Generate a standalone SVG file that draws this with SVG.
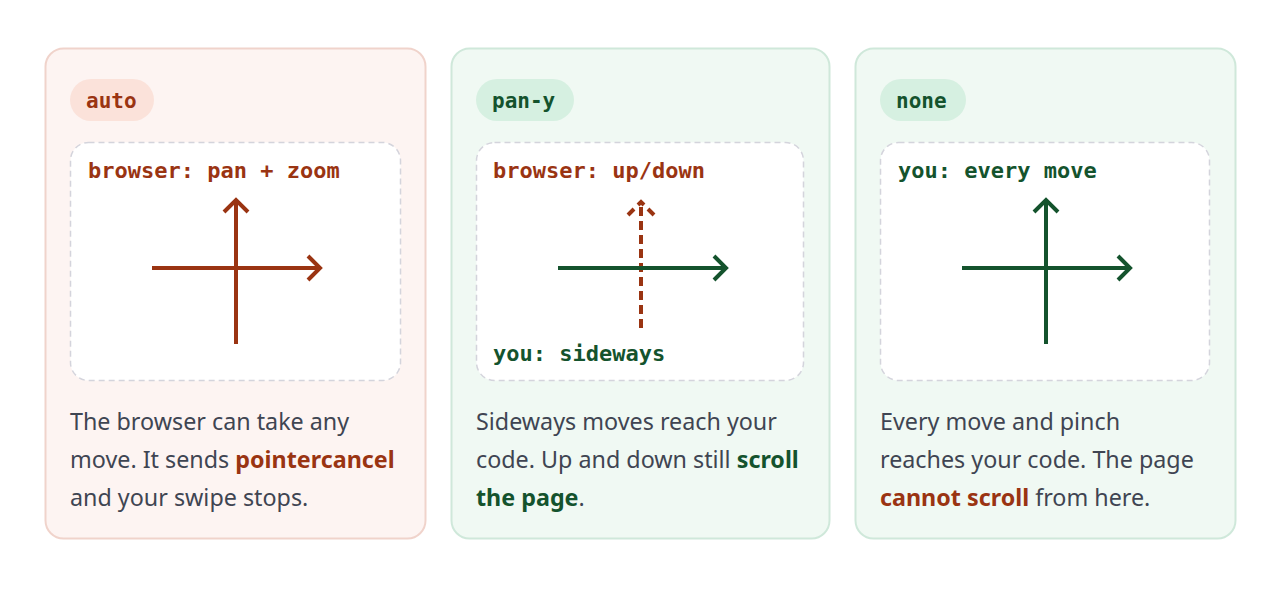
<svg xmlns="http://www.w3.org/2000/svg" width="1280" height="592" viewBox="0 0 1280 592">
<style>
.code{font-family:"DejaVu Sans Mono",monospace;font-weight:bold;font-size:22px}
.pill{font-size:21px}
.body{font-family:"Noto Sans","Open Sans",sans-serif;font-size:23.3px;fill:#3f4552}
.b{font-weight:bold}
.red{fill:#9a3412}.grn{fill:#14532d}
.ar{fill:none;stroke-width:4;stroke-linecap:butt;stroke-linejoin:miter}
.rs{stroke:#9a3412}.gs{stroke:#14532d}
.inner{fill:#fff;stroke:#d4d4dc;stroke-width:1.5;stroke-dasharray:6 4}
</style>
<rect width="1280" height="592" fill="#fff"/>
<g id="card-auto">
<rect x="45.5" y="48.5" width="380" height="490" rx="18" fill="#fdf4f2" stroke="#f0d3cb" stroke-width="2"/>
<rect x="70" y="79" width="84" height="42" rx="21" fill="#fbe2da"/>
<text x="86" y="108" class="code pill red">auto</text>
<rect x="70.5" y="142.5" width="330" height="238" rx="18" class="inner"/>
<text x="88" y="178" class="code red">browser: pan + zoom</text>
<g class="ar rs"><path d="M152 268H320M308 256L320 268L308 280M236 344V200M224 212L236 200L248 212"/></g>
<text class="body" x="70"><tspan y="430">The browser can take any</tspan><tspan x="70" y="468">move. It sends <tspan class="b red">pointercancel</tspan></tspan><tspan x="70" y="506">and your swipe stops.</tspan></text>
</g>
<g id="card-pan-y">
<rect x="451.5" y="48.5" width="378" height="490" rx="18" fill="#f0f9f3" stroke="#cfe8da" stroke-width="2"/>
<rect x="476" y="79" width="98" height="42" rx="21" fill="#d6f0e1"/>
<text x="492" y="108" class="code pill grn">pan-y</text>
<rect x="476.5" y="142.5" width="327" height="238" rx="18" class="inner"/>
<text x="493" y="178" class="code red">browser: up/down</text>
<g class="ar rs" stroke-dasharray="9 5"><path d="M641 328V204"/></g>
<g class="ar rs"><path d="M628 215L634 209M638 205L641 202L644 205M648 209L654 215"/></g>
<g class="ar gs"><path d="M558 268H726M714 256L726 268L714 280"/></g>
<text x="493" y="361" class="code grn">you: sideways</text>
<text class="body" x="476"><tspan y="430">Sideways moves reach your</tspan><tspan x="476" y="468">code. Up and down still <tspan class="b grn">scroll</tspan></tspan><tspan x="476" y="506"><tspan class="b grn">the page</tspan>.</tspan></text>
</g>
<g id="card-none">
<rect x="855.5" y="48.5" width="380" height="490" rx="18" fill="#f0f9f3" stroke="#cfe8da" stroke-width="2"/>
<rect x="880" y="79" width="86" height="42" rx="21" fill="#d6f0e1"/>
<text x="896" y="108" class="code pill grn">none</text>
<rect x="880.5" y="142.5" width="329" height="238" rx="18" class="inner"/>
<text x="898" y="178" class="code grn">you: every move</text>
<g class="ar gs"><path d="M962 268H1130M1118 256L1130 268L1118 280M1046 344V200M1034 212L1046 200L1058 212"/></g>
<text class="body" x="880"><tspan y="430">Every move and pinch</tspan><tspan x="880" y="468">reaches your code. The page</tspan><tspan x="880" y="506"><tspan class="b red">cannot scroll</tspan> from here.</tspan></text>
</g>
<g id="connectors"/>
</svg>
